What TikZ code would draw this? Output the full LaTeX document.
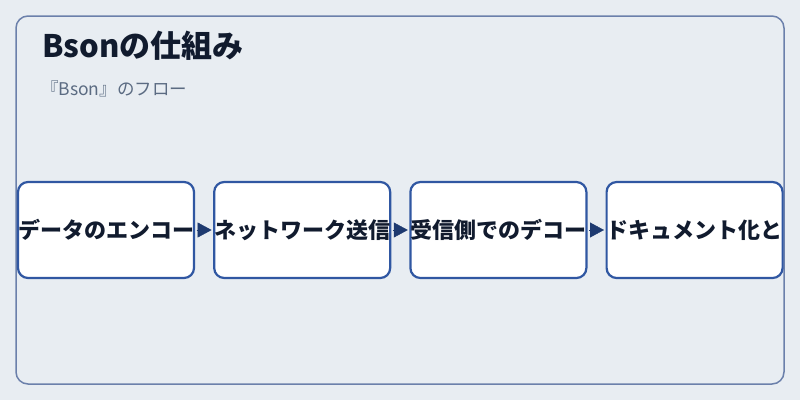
\documentclass[tikz,border=0pt]{standalone}
\usepackage{fontspec}
\usepackage{tikz}
\usetikzlibrary{positioning,arrows.meta}
\newfontfamily\jpfont{Noto Sans CJK JP}
\definecolor{bgcol}{HTML}{E8EDF2}
\definecolor{framecol}{HTML}{6B80AB}
\definecolor{boxcol}{HTML}{3057A2}
\definecolor{arrowcol}{HTML}{1E3A70}
\definecolor{titlecol}{HTML}{111B2E}
\definecolor{subcol}{HTML}{5B6B82}

\begin{document}
\begin{tikzpicture}[x=1pt,y=-1pt,
    stage/.style={draw=boxcol,line width=2.2pt,fill=white,rounded corners=10pt,
        minimum width=175.8pt,minimum height=96pt,inner sep=0pt,
        font=\jpfont\bfseries\fontsize{22}{24}\selectfont,text=titlecol},
    flow/.style={draw=arrowcol,fill=arrowcol,line width=0.4pt,
        shorten <=1.5pt,shorten >=1.5pt,
        -{Triangle[length=14pt,width=15pt]}},
    node distance=18pt]
    \useasboundingbox[fill=bgcol] (0,0) rectangle (800,400);
    \draw[framecol,line width=1.5pt,rounded corners=12pt] (16,16) rectangle (784,384);
    \node (title) [anchor=base west,text=titlecol,inner sep=0pt,
        font=\jpfont\bfseries\fontsize{31}{35}\selectfont] at (42,57) {Bsonの仕組み};
    \node (sub) [anchor=base west,text=subcol,inner sep=0pt,
        font=\jpfont\fontsize{17.5}{20}\selectfont] at (41,95) {『Bson』のフロー};
    \node (S1) [stage] at (106,230) {データのエンコー};
    \node (S2) [stage,right=of S1] {ネットワーク送信};
    \node (S3) [stage,right=of S2] {受信側でのデコー};
    \node (S4) [stage,right=of S3] {ドキュメント化と};
    \draw
        (S1) edge[flow] (S2)
        (S2) edge[flow] (S3)
        (S3) edge[flow] (S4);
\end{tikzpicture}
\end{document}
